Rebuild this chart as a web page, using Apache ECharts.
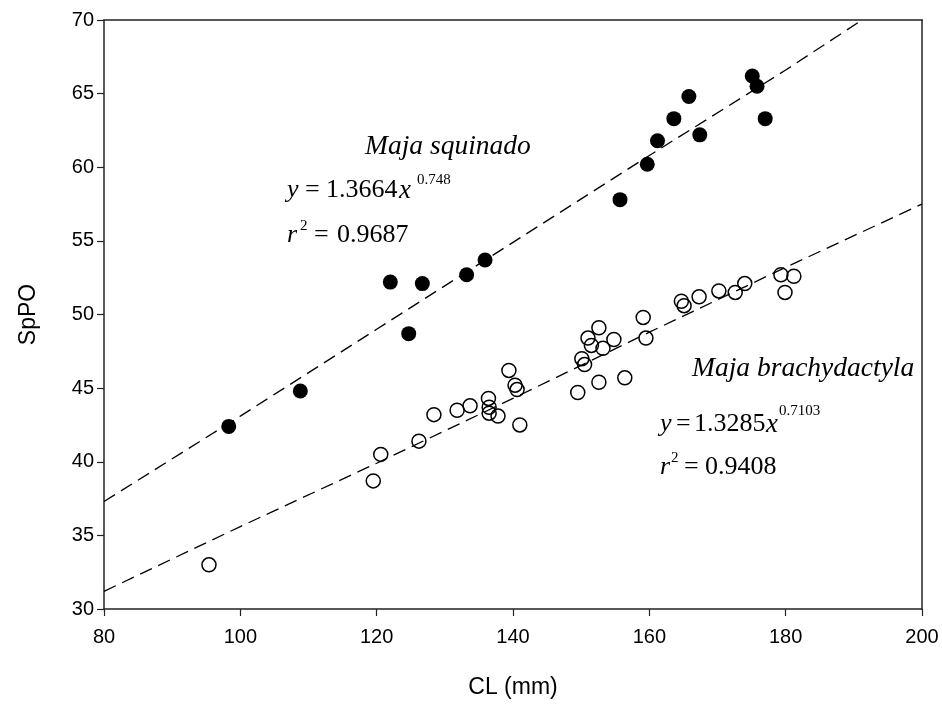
<!DOCTYPE html>
<html>
<head>
<meta charset="utf-8">
<script src="https://cdn.jsdelivr.net/npm/echarts@6/dist/echarts.min.js"></script>
<style>html,body{margin:0;padding:0;background:#fff}#c{width:942px;height:706px}</style>
</head>
<body>
<div id="c"></div>
<script>
// Maja squinado (filled circles)
const squinadoCL   = [98.3, 108.8, 122.0, 124.7, 126.7, 133.2, 135.9, 155.7, 159.7, 161.2, 163.6, 165.8, 167.4, 175.1, 175.8, 177.0];
const squinadoSpPO = [42.4, 44.8, 52.2, 48.7, 52.1, 52.7, 53.7, 57.8, 60.2, 61.8, 63.3, 64.8, 62.2, 66.2, 65.5, 63.3];
// Maja brachydactyla (open circles)
const brachyCL   = [95.4, 119.5, 120.6, 126.2, 128.4, 131.8, 133.7, 136.4, 136.5, 136.5, 137.8, 139.4, 140.3, 140.6, 141.0, 149.5, 150.1, 150.5, 151.0, 151.5, 152.6, 152.6, 153.2, 154.8, 156.4, 159.1, 159.5, 164.7, 165.1, 167.3, 170.2, 172.6, 174.0, 179.3, 181.2, 179.9];
const brachySpPO = [33.0, 38.7, 40.5, 41.4, 43.2, 43.5, 43.8, 44.3, 43.7, 43.3, 43.1, 46.2, 45.2, 44.9, 42.5, 44.7, 47.0, 46.6, 48.4, 47.9, 49.1, 45.4, 47.7, 48.3, 45.7, 49.8, 48.4, 50.9, 50.6, 51.2, 51.6, 51.5, 52.1, 52.7, 52.6, 51.5];
// fitted curves
const squinadoFitCL = [80, 100, 120, 140, 160, 180, 191.2];
const squinadoFit   = [37.3, 43.1, 49.0, 54.9, 60.8, 66.6, 70.0];
const brachyFitCL = [80, 100, 120, 140, 160, 180, 200];
const brachyFit   = [31.2, 35.6, 39.9, 44.3, 48.8, 53.2, 57.5];
// axis ticks
const xTicks = [80, 100, 120, 140, 160, 180, 200];
const yTicks = [30, 35, 40, 45, 50, 55, 60, 65, 70];

const zip = (a, b) => a.map((v, i) => [v, b[i]]);
const chart = echarts.init(document.getElementById('c'), null, {renderer: 'canvas'});
const sans = 'Liberation Sans, Arial, sans-serif';
const serif = 'Liberation Serif, Times New Roman, serif';
const axisColor = '#222';
const main = 26, title = 27.5, sup = 15;

function t(x, y, text, size, italic) {
  return {type: 'text', left: x, top: y, silent: true,
    style: {text: text, font: (italic ? 'italic ' : '') + size + 'px ' + serif, fill: '#000'}};
}

chart.setOption({
  animation: false,
  backgroundColor: '#fff',
  grid: {left: 104, top: 20, right: 20, bottom: 97, containLabel: false},
  xAxis: [{
    type: 'value', min: xTicks[0], max: xTicks[xTicks.length - 1], interval: 20,
    name: 'CL (mm)', nameLocation: 'middle', nameGap: 67,
    nameTextStyle: {fontFamily: sans, fontSize: 23, color: '#000'},
    axisLine: {show: true, lineStyle: {color: axisColor, width: 1.5}},
    axisTick: {show: true, inside: false, length: 7, lineStyle: {color: axisColor, width: 1.2}},
    axisLabel: {fontFamily: sans, fontSize: 20, color: '#000', margin: 18},
    splitLine: {show: false}
  }, {
    type: 'value', position: 'top', min: 80, max: 200,
    axisLine: {show: true, onZero: false, lineStyle: {color: axisColor, width: 1.5}},
    axisTick: {show: false}, axisLabel: {show: false}, splitLine: {show: false}
  }],
  yAxis: [{
    type: 'value', min: yTicks[0], max: yTicks[yTicks.length - 1], interval: 5,
    name: 'SpPO', nameLocation: 'middle', nameGap: 64,
    nameTextStyle: {fontFamily: sans, fontSize: 23, color: '#000'},
    axisLine: {show: true, lineStyle: {color: axisColor, width: 1.5}},
    axisTick: {show: true, inside: false, length: 7, lineStyle: {color: axisColor, width: 1.2}},
    axisLabel: {fontFamily: sans, fontSize: 20, color: '#000', margin: 10},
    splitLine: {show: false}
  }, {
    type: 'value', position: 'right', min: 30, max: 70,
    axisLine: {show: true, onZero: false, lineStyle: {color: axisColor, width: 1.5}},
    axisTick: {show: false}, axisLabel: {show: false}, splitLine: {show: false}
  }],
  series: [
    {type: 'line', data: zip(squinadoFitCL, squinadoFit), showSymbol: false, symbol: 'none',
     lineStyle: {color: '#000', width: 1.3, type: [13, 7]}, z: 2},
    {type: 'line', data: zip(brachyFitCL, brachyFit), showSymbol: false, symbol: 'none',
     lineStyle: {color: '#000', width: 1.3, type: [13, 7]}, z: 2},
    {type: 'scatter', data: zip(squinadoCL, squinadoSpPO), symbol: 'circle', symbolSize: 15,
     itemStyle: {color: '#000', opacity: 1}, z: 3},
    {type: 'scatter', data: zip(brachyCL, brachySpPO), symbol: 'circle', symbolSize: 14,
     itemStyle: {color: 'rgba(255,255,255,0)', borderColor: '#000', borderWidth: 1.5, opacity: 1}, z: 3}
  ],
  graphic: [
    t(365, 133, 'Maja squinado', title, true),
    t(287, 177, 'y', main, true),
    t(305, 177, '=', main, false),
    t(326, 177, '1.3664', main, false),
    t(399, 177, 'x', main + 1, true),
    t(417, 173, '0.748', sup, false),
    t(287, 222, 'r', main, true),
    t(300, 219, '2', sup, false),
    t(314, 222, '=', main, false),
    t(337, 222, '0.9687', main, false),

    t(692, 355, 'Maja brachydactyla', title, true),
    t(660, 411, 'y', main, true),
    t(676, 411, '=', main, false),
    t(694, 411, '1.3285', main, false),
    t(766, 411, 'x', main + 1, true),
    t(779, 404, '0.7103', sup, false),
    t(660, 454, 'r', main, true),
    t(671, 451, '2', sup, false),
    t(684, 454, '=', main, false),
    t(705, 454, '0.9408', main, false)
  ]
});
</script>
</body>
</html>
